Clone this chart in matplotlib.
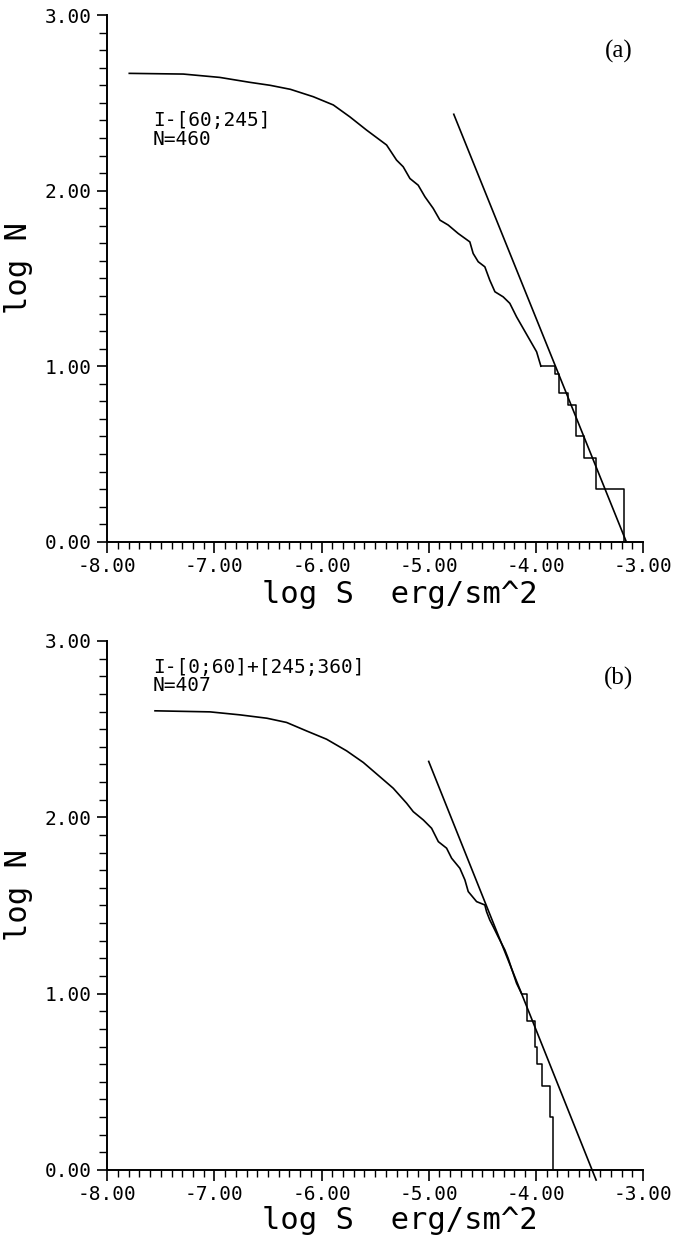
import numpy as np
import matplotlib
matplotlib.use('Agg')
import matplotlib.pyplot as plt
from matplotlib.ticker import MultipleLocator

plt.rcParams['axes.unicode_minus'] = False

# ---- panel (a): I-[60;245], N=460 ----
a_logS = [-7.794, -7.29, -6.95, -6.67, -6.48, -6.29, -6.077, -5.89, -5.735, -5.58,
          -5.393, -5.30, -5.238, -5.175, -5.098, -5.035, -4.958, -4.895, -4.818, -4.725,
          -4.616, -4.585, -4.538, -4.476, -4.43, -4.382, -4.305, -4.243, -4.18, -4.118,
          -4.056, -3.993, -3.953]
a_logN = [2.668, 2.664, 2.645, 2.617, 2.60, 2.577, 2.535, 2.488, 2.42, 2.345,
          2.26, 2.174, 2.136, 2.069, 2.031, 1.965, 1.899, 1.832, 1.804, 1.756,
          1.708, 1.642, 1.595, 1.566, 1.49, 1.424, 1.395, 1.358, 1.281, 1.215,
          1.149, 1.082, 1.0]
# bright end: single-event steps
a_step_logS = [-3.953, -3.822, -3.78, -3.703, -3.625, -3.547, -3.4375, -3.178]
a_step_logN = [1.0, 0.954, 0.845, 0.778, 0.602, 0.477, 0.301, 0.0]
a_fit_logS = [-4.766, -3.156]
a_fit_logN = [2.435, 0.0]

# ---- panel (b): I-[0;60]+[245;360], N=407 ----
b_logS = [-7.554, -7.04, -6.76, -6.51, -6.326, -6.14, -5.953, -5.766, -5.61, -5.455,
          -5.331, -5.206, -5.144, -5.05, -4.973, -4.91, -4.833, -4.786, -4.709, -4.662,
          -4.631, -4.553, -4.476, -4.46, -4.43, -4.398, -4.352, -4.289, -4.258, -4.227,
          -4.18, -4.133]
b_logN = [2.604, 2.598, 2.581, 2.562, 2.538, 2.49, 2.443, 2.377, 2.311, 2.23,
          2.165, 2.08, 2.032, 1.985, 1.938, 1.862, 1.825, 1.768, 1.711, 1.645,
          1.579, 1.522, 1.503, 1.465, 1.418, 1.38, 1.323, 1.248, 1.20, 1.143,
          1.059, 1.0]
b_step_logS = [-4.133, -4.078, -4.01, -3.99, -3.94, -3.866, -3.844]
b_step_logN = [1.0, 0.845, 0.70, 0.602, 0.477, 0.301, 0.0]
b_fit_logS = [-5.0, -3.4375]
b_fit_logN = [2.317, -0.057]

xticks = [-8, -7, -6, -5, -4, -3]
xtick_labels = ['-8.00', '-7.00', '-6.00', '-5.00', '-4.00', '-3.00']
yticks = [0, 1, 2, 3]
ytick_labels = ['0.00', '1.00', '2.00', '3.00']

MONO = 'DejaVu Sans Mono'


def draw_panel(ax, logS, logN, step_logS, step_logN, fit_logS, fit_logN,
               info1, info2, tag, info_y, xlab_y):
    ax.plot(logS, logN, color='black', lw=1.2)
    ax.plot(step_logS, step_logN, color='black', lw=1.1, drawstyle='steps-post')
    ax.plot(fit_logS, fit_logN, color='black', lw=1.2, clip_on=False)

    ax.set_xlim(-8, -3)
    ax.set_ylim(0, 3)
    for s in ['top', 'right']:
        ax.spines[s].set_visible(False)
    for s in ['left', 'bottom']:
        ax.spines[s].set_linewidth(1.4)

    ax.set_xticks(xticks)
    ax.set_xticklabels(xtick_labels, fontfamily=MONO, fontsize=14)
    ax.set_yticks(yticks)
    ax.set_yticklabels(ytick_labels, fontfamily=MONO, fontsize=14)
    ax.xaxis.set_minor_locator(MultipleLocator(0.1))
    ax.yaxis.set_minor_locator(MultipleLocator(0.1))
    ax.tick_params(axis='x', which='major', direction='out', length=8, width=1.2, pad=3)
    ax.tick_params(axis='x', which='minor', direction='out', length=5, width=1.0)
    ax.tick_params(axis='y', which='major', direction='out', length=7, width=1.2, pad=4)
    ax.tick_params(axis='y', which='minor', direction='out', length=6, width=1.0)

    ax.text(0.546, xlab_y, 'log S  erg/sm^2', transform=ax.transAxes,
            ha='center', va='center', fontfamily=MONO, fontsize=22)
    ax.text(-0.166, 0.52, 'log N', transform=ax.transAxes, rotation=90,
            ha='center', va='center', fontfamily=MONO, fontsize=22)

    ax.text(0.0855, info_y[0], info1, transform=ax.transAxes,
            ha='left', va='center', fontfamily=MONO, fontsize=14)
    ax.text(0.0855, info_y[1], info2, transform=ax.transAxes,
            ha='left', va='center', fontfamily=MONO, fontsize=14)
    ax.text(0.955, 0.93, tag, transform=ax.transAxes, ha='center', va='center',
            fontfamily='Liberation Serif', fontsize=18)


fig = plt.figure(figsize=(6.76, 12.36), dpi=100)
ax_a = fig.add_axes([0.1586, 0.5617, 0.7926, 0.4261])
ax_b = fig.add_axes([0.1586, 0.0534, 0.7926, 0.4280])

draw_panel(ax_a, a_logS, a_logN, a_step_logS, a_step_logN, a_fit_logS, a_fit_logN,
           'I-[60;245]', 'N=460', '(a)', (0.80, 0.763), -0.101)
draw_panel(ax_b, b_logS, b_logN, b_step_logS, b_step_logN, b_fit_logS, b_fit_logN,
           'I-[0;60]+[245;360]', 'N=407', '(b)', (0.949, 0.915), -0.095)

fig.savefig('out.png', dpi=100, facecolor='white')
